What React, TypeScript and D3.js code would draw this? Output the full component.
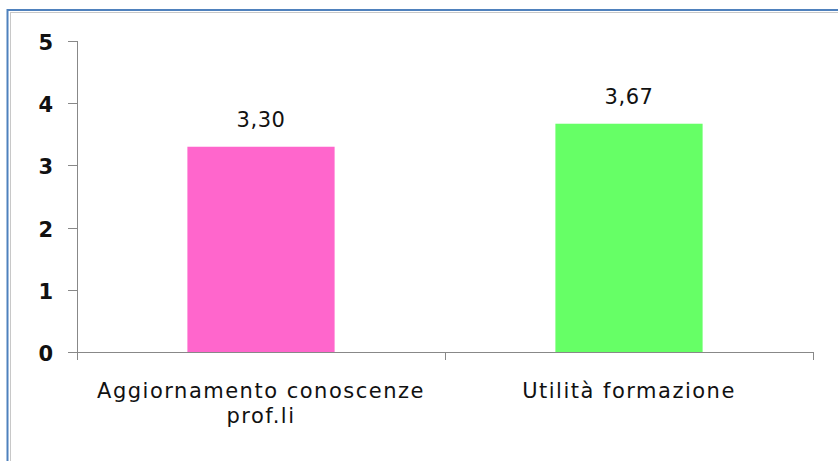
import React from "react";
import * as d3 from "d3";

const categories: string[][] = [["Aggiornamento conoscenze", "prof.li"], ["Utilità formazione"]];
const values: number[] = [3.3, 3.67];
const valueLabels: string[] = ["3,30", "3,67"];
const colors: string[] = ["#FF66CC", "#66FF66"];
const yTicks: number[] = [0, 1, 2, 3, 4, 5];

export default function App() {
  const W = 838, H = 461;
  const left = 77, right = 813, top = 41, bottom = 352;
  const x = d3.scaleBand<number>().domain(d3.range(values.length)).range([left, right]).paddingInner(0.6).paddingOuter(0.3);
  const y = d3.scaleLinear().domain([0, 5]).range([bottom, top]);
  const font = "DejaVu Sans, Verdana, sans-serif";
  const axisColor = "#888";
  const textColor = "#111";
  return (
    <svg width={W} height={H} style={{ position: "absolute", left: 0, top: 0, display: "block", background: "#fff" }} fontFamily={font}>
      <rect x={7.5} y={10} width={W + 20} height={H + 20} fill="none" stroke="#4F81BD" strokeWidth={2} />
      <rect x={10.5} y={12.5} width={W + 20} height={H + 20} fill="none" stroke="#C8C8C8" strokeWidth={1} />
      {values.map((v, i) => (
        <rect key={i} x={x(i)!} y={y(v)} width={x.bandwidth()} height={y(0) - y(v)} fill={colors[i]} />
      ))}
      <line x1={left + 0.5} x2={left + 0.5} y1={top} y2={bottom + 8} stroke={axisColor} />
      {yTicks.map((t) => (
        <g key={t}>
          <line x1={left - 9} x2={left} y1={Math.round(y(t)) + 0.5} y2={Math.round(y(t)) + 0.5} stroke={axisColor} />
          <text x={53} y={y(t) + 9} textAnchor="end" fontSize={21} fontWeight="bold" fill={textColor}>{t}</text>
        </g>
      ))}
      <line x1={left} x2={right} y1={bottom + 0.5} y2={bottom + 0.5} stroke={axisColor} />
      {[left, (left + right) / 2, right].map((tx, i) => (
        <line key={i} x1={Math.round(tx) + 0.5} x2={Math.round(tx) + 0.5} y1={bottom} y2={bottom + 8} stroke={axisColor} />
      ))}
      {values.map((v, i) => (
        <text key={i} x={x(i)! + x.bandwidth() / 2} y={y(v) - 20} textAnchor="middle" fontSize={21} letterSpacing={0.5} fill={textColor}>{valueLabels[i]}</text>
      ))}
      {categories.map((lines, i) => (
        <text key={i} x={x(i)! + x.bandwidth() / 2} y={398} textAnchor="middle" fontSize={21} letterSpacing={1.5} fill={textColor}>
          {lines.map((l, j) => (
            <tspan key={j} x={x(i)! + x.bandwidth() / 2} dy={j === 0 ? 0 : 25}>{l}</tspan>
          ))}
        </text>
      ))}
    </svg>
  );
}
